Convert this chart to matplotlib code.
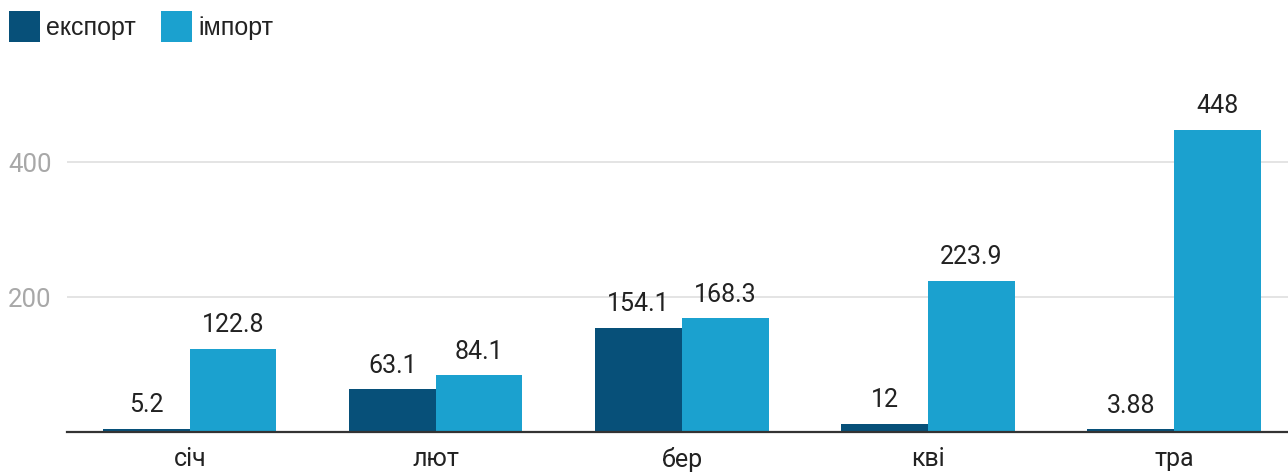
import matplotlib.pyplot as plt
import numpy as np

plt.rcParams['font.family'] = ['Roboto', 'DejaVu Sans']

# дані
months = ['січ', 'лют', 'бер', 'кві', 'тра']
export_vals = [5.2, 63.1, 154.1, 12, 3.88]
import_vals = [122.8, 84.1, 168.3, 223.9, 448]
export_labels = ['5.2', '63.1', '154.1', '12', '3.88']
import_labels = ['122.8', '84.1', '168.3', '223.9', '448']

c_exp = '#075079'
c_imp = '#1ba1cf'

fig = plt.figure(figsize=(12.88, 4.72), dpi=100)
ax = fig.add_axes([0.0518, 0.0847, 0.9482, 0.715])

x = np.arange(len(months))
w = 0.352
b1 = ax.bar(x - w / 2, export_vals, w, color=c_exp, label='експорт', zorder=3)
b2 = ax.bar(x + w / 2, import_vals, w, color=c_imp, label='імпорт', zorder=3)

# підписи значень
for bars, labels in ((b1, export_labels), (b2, import_labels)):
    for r, t in zip(bars, labels):
        ax.annotate(t, xy=(r.get_x() + r.get_width() / 2, r.get_height()),
                    xytext=(0, 12), textcoords='offset points',
                    ha='center', va='baseline', fontsize=18, color='#222222', zorder=4)

ax.set_xlim(-0.5, 4.463)
ax.set_ylim(0, 500)
ax.set_yticks([200, 400])
ax.set_xticks(x)
ax.set_xticklabels(months)
ax.tick_params(axis='x', length=0, pad=11, labelsize=18, labelcolor='#222222')
ax.tick_params(axis='y', length=0, pad=11, labelsize=18.5, labelcolor='#a8a8a8')
ax.grid(True, axis='y', color='#e2e2e2', linewidth=1.3, zorder=0)
for s in ('top', 'right', 'left'):
    ax.spines[s].set_visible(False)
ax.spines['bottom'].set_color('#333333')
ax.spines['bottom'].set_linewidth(1.6)
ax.spines['bottom'].set_zorder(5)

fig.legend(loc='upper left', bbox_to_anchor=(9 / 1288, 1 - 11 / 472), ncol=2, frameon=False,
           prop={'family': ['Liberation Sans', 'DejaVu Sans'], 'size': 18},
           handlelength=1.24, handleheight=1.55, handletextpad=0.25,
           columnspacing=1.0, borderaxespad=0, borderpad=0, labelcolor='#222222')

fig.savefig('out.png', dpi=100)
